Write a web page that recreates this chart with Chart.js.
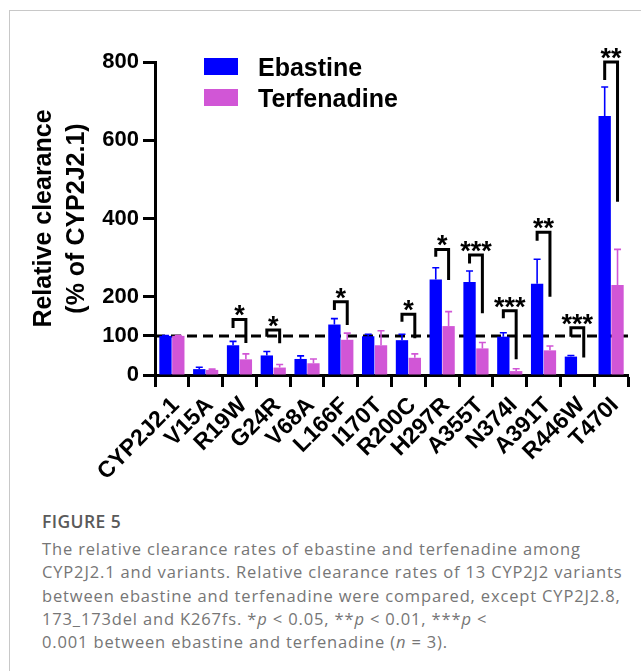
<!DOCTYPE html>
<html>
<head>
<meta charset="utf-8">
<script src="https://cdn.jsdelivr.net/npm/chart.js@4.4.1/dist/chart.umd.min.js"></script>
<style>
  html, body { margin: 0; padding: 0; background: #fff; }
  body { width: 641px; height: 671px; position: relative; overflow: hidden; }
  #frame { position: absolute; left: 9px; top: 10px; width: 700px; height: 700px;
           border-top: 1px solid #c8c8c8; border-left: 1px solid #c8c8c8; }
  #wrap { position: absolute; left: 0; top: 0; width: 641px; height: 490px; }
  .cap { position: absolute; left: 42px; font-family: 'Open Sans', sans-serif; color: #767676;
         font-size: 16.5px; line-height: 23.3px; white-space: nowrap; letter-spacing: 0.85px; }
  #figTitle { top: 510px; font-weight: 600; color: #5a5a5a; font-size: 17.5px; letter-spacing: 0.4px; }
  #figText { top: 537px; }
</style>
</head>
<body>
<div id="frame"></div>
<div id="wrap"><canvas id="myChart" width="641" height="490"></canvas></div>
<div id="figTitle" class="cap">FIGURE 5</div>
<div id="figText" class="cap">
The relative clearance rates of ebastine and terfenadine among<br>
CYP2J2.1 and variants. Relative clearance rates of 13 CYP2J2 variants<br>
between ebastine and terfenadine were compared, except CYP2J2.8,<br>
173_173del and K267fs. *<i>p</i> &lt; 0.05, **<i>p</i> &lt; 0.01, ***<i>p</i> &lt;<br>
0.001 between ebastine and terfenadine (<i>n</i> = 3).
</div>
<script>
// values (% of CYP2J2.1)
let categories = ['CYP2J2.1', 'V15A', 'R19W', 'G24R', 'V68A', 'L166F', 'I170T',
                  'R200C', 'H297R', 'A355T', 'N374I', 'A391T', 'R446W', 'T470I'];
let ebastine      = [100, 15, 76, 50, 41, 129, 99, 89, 244, 238, 98, 233, 47, 662];
let ebastineErr   = [1, 5, 10, 10, 8, 15, 5, 15, 30, 28, 10, 63, 3, 74];
let terfenadine   = [100, 13, 40, 19, 30, 90, 76, 44, 125, 68, 10, 63, 1, 230];
let terfenadineErr = [1, 2, 14, 8, 11, 17, 37, 10, 37, 15, 6, 11, 0, 91];

let yTicks = [0, 100, 200, 400, 600, 800];
let refLevel = 100;

// significance brackets: category index, stars, top / left leg end / right leg end
let sigIndex = [2, 3, 5, 7, 8, 9, 10, 11, 12, 13];
let sigStars = ['*', '*', '*', '*', '*', '***', '***', '**', '***', '**'];
let bracketTop = [142, 115, 187, 155, 321, 307, 164, 365, 121, 800];
let bracketLeft = [120, 98, 166, 136, 302, 285, 145, 343, 98, 754];
let bracketRight = [82, 81, 128, 94, 243, 158, 40, 200, 45, 443];

let blue = '#0000ff';
let pink = '#d156d6';
let boldFont = "'Liberation Sans', Arial, sans-serif";

let refLine = {
    id: 'refLine',
    beforeDatasetsDraw(chart) {
        let ctx = chart.ctx, a = chart.chartArea;
        let y = chart.scales.y.getPixelForValue(refLevel);
        ctx.save();
        ctx.strokeStyle = '#000';
        ctx.lineWidth = 3;
        ctx.setLineDash([10, 6]);
        ctx.beginPath();
        ctx.moveTo(a.left, y);
        ctx.lineTo(a.right, y);
        ctx.stroke();
        ctx.restore();
    }
};

let errorBars = {
    id: 'errorBars',
    afterDatasetsDraw(chart) {
        let ctx = chart.ctx, ys = chart.scales.y;
        let errs = [ebastineErr, terfenadineErr];
        ctx.save();
        chart.data.datasets.forEach(function (ds, i) {
            let meta = chart.getDatasetMeta(i);
            ctx.strokeStyle = ds.backgroundColor;
            ctx.lineWidth = 1.6;
            meta.data.forEach(function (bar, j) {
                if (!errs[i][j]) return;
                let top = ys.getPixelForValue(ds.data[j] + errs[i][j]);
                ctx.beginPath();
                ctx.moveTo(bar.x, bar.y);
                ctx.lineTo(bar.x, top);
                ctx.moveTo(bar.x - 3.5, top);
                ctx.lineTo(bar.x + 3.5, top);
                ctx.stroke();
            });
        });
        ctx.restore();
    }
};

let brackets = {
    id: 'brackets',
    afterDraw(chart) {
        let ctx = chart.ctx, ys = chart.scales.y;
        let m0 = chart.getDatasetMeta(0), m1 = chart.getDatasetMeta(1);
        ctx.save();
        ctx.strokeStyle = '#000';
        ctx.fillStyle = '#000';
        ctx.lineWidth = 3;
        ctx.font = 'bold 27px ' + boldFont;
        ctx.textAlign = 'center';
        ctx.textBaseline = 'alphabetic';
        sigIndex.forEach(function (k, i) {
            let xl = m0.data[k].x, xr = m1.data[k].x;
            let yt = ys.getPixelForValue(bracketTop[i]);
            ctx.beginPath();
            ctx.moveTo(xl, ys.getPixelForValue(bracketLeft[i]));
            ctx.lineTo(xl, yt);
            ctx.lineTo(xr, yt);
            ctx.lineTo(xr, ys.getPixelForValue(bracketRight[i]));
            ctx.stroke();
            ctx.fillText(sigStars[i], (xl + xr) / 2, yt + 5);
        });

        // legend
        let a = chart.chartArea;
        ctx.font = 'bold 25px ' + boldFont;
        ctx.textAlign = 'left';
        chart.data.datasets.forEach(function (ds, i) {
            let y = 58 + i * 31;
            ctx.fillStyle = ds.backgroundColor;
            ctx.fillRect(a.left + 49, y, 34, 17);
            ctx.fillStyle = '#000';
            ctx.fillText(ds.label, a.left + 103, y + 18);
        });
        ctx.restore();
    }
};

let ctx = document.getElementById('myChart').getContext('2d');

let myChart = new Chart(ctx, {
    type: 'bar',
    data: {
        labels: categories,
        datasets: [
            { label: 'Ebastine', data: ebastine, backgroundColor: blue,
              categoryPercentage: 0.76, barPercentage: 0.96 },
            { label: 'Terfenadine', data: terfenadine, backgroundColor: pink,
              categoryPercentage: 0.76, barPercentage: 0.96 }
        ]
    },
    options: {
        responsive: false,
        animation: false,
        layout: { padding: { left: 28, right: 13, top: 62, bottom: 0 } },
        plugins: {
            legend: { display: false },
            tooltip: { enabled: false }
        },
        scales: {
            x: {
                grid: { drawOnChartArea: false, tickLength: 12, tickWidth: 3, tickColor: '#000' },
                border: { width: 3, color: '#000' },
                ticks: {
                    color: '#000', padding: 5, labelOffset: 4,
                    minRotation: 45, maxRotation: 45, autoSkip: false,
                    font: { family: boldFont, weight: 'bold', size: 23 }
                },
                afterFit(scale) { scale.height = 115; }
            },
            y: {
                min: 0,
                max: 800,
                afterBuildTicks(scale) { scale.ticks = yTicks.map(v => ({ value: v })); },
                grid: { drawOnChartArea: false, tickLength: 12, tickWidth: 3, tickColor: '#000' },
                border: { width: 3, color: '#000' },
                ticks: {
                    color: '#000', padding: 4,
                    font: { family: boldFont, weight: 'bold', size: 22 }
                },
                title: {
                    display: true,
                    text: ['Relative clearance', '(% of CYP2J2.1)'],
                    color: '#000',
                    padding: { top: 0, bottom: 6 },
                    font: { family: boldFont, weight: 'bold', size: 25, lineHeight: 1.3 }
                },
                afterFit(scale) { scale.width = 127; }
            }
        }
    },
    plugins: [refLine, errorBars, brackets]
});
</script>
</body>
</html>
